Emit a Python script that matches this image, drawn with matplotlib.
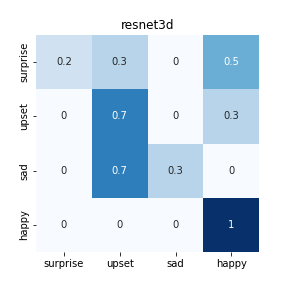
import matplotlib
matplotlib.use("Agg")
import matplotlib.pyplot as plt
import numpy as np
import seaborn as sns

labels = ["surprise", "upset", "sad", "happy"]
row_surprise = [0.2, 0.3, 0, 0.5]
row_upset = [0, 0.7, 0, 0.3]
row_sad = [0, 0.7, 0.3, 0]
row_happy = [0, 0, 0, 1]
title = "resnet3d"

data = np.array([row_surprise, row_upset, row_sad, row_happy])

fig = plt.figure(figsize=(4, 4), dpi=72)
ax = fig.add_subplot(111)
fig.subplots_adjust(left=0.125, right=0.9, top=0.878, bottom=0.125)
sns.heatmap(data, annot=True, fmt="g", cmap="Blues", cbar=False,
            xticklabels=labels, yticklabels=labels, ax=ax, vmin=0, vmax=1)
ax.set_title(title)
fig.savefig("out.png", dpi=72)
